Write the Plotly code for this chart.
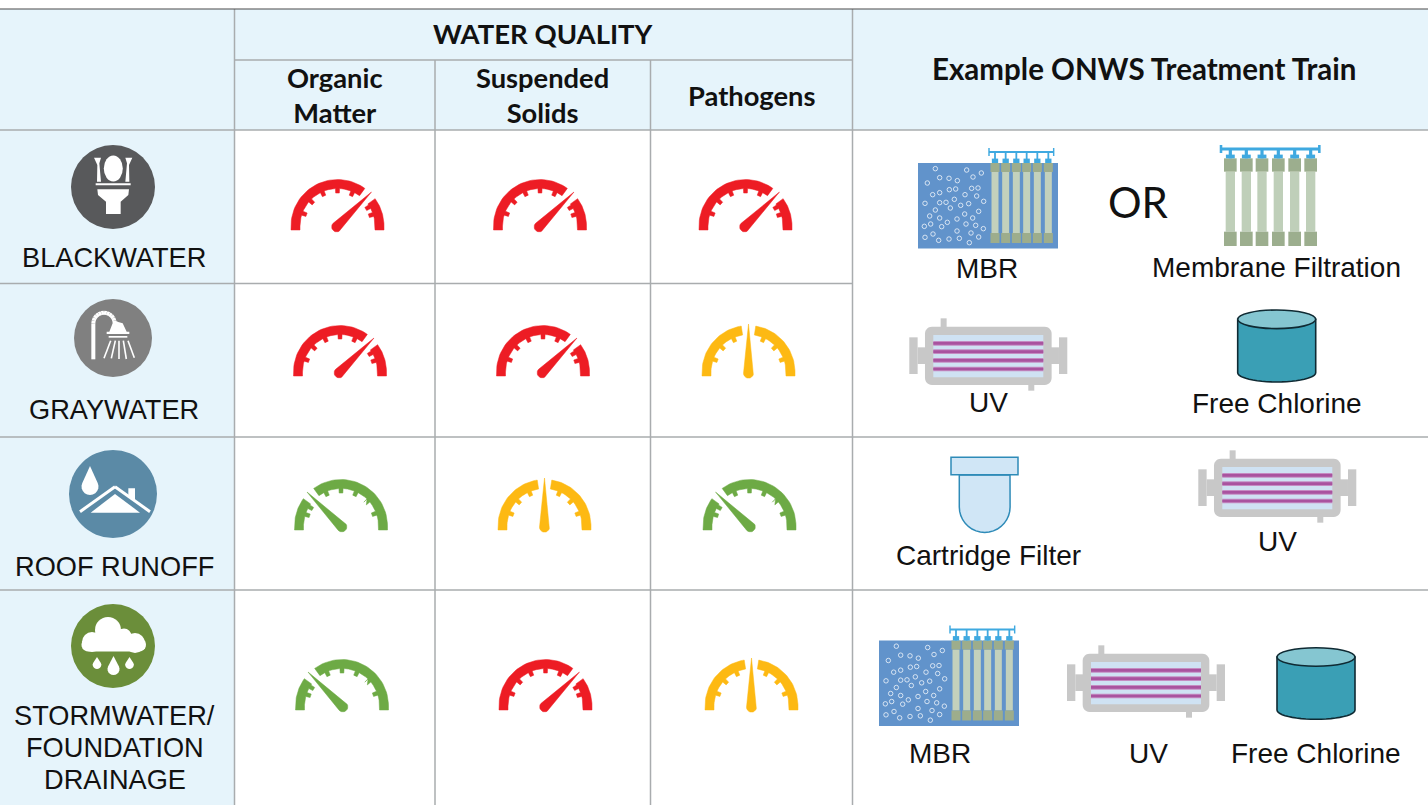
import math
import plotly.graph_objects as go

# ---- table content ----
SOURCES = ["BLACKWATER", "GRAYWATER", "ROOF RUNOFF", "STORMWATER/<br>FOUNDATION<br>DRAINAGE"]
PARAMETERS = ["Organic<br>Matter", "Suspended<br>Solids", "Pathogens"]
GROUP_TITLE = "WATER QUALITY"
TRAIN_TITLE = "Example ONWS Treatment Train"
ORGANIC = ["High", "High", "Low", "Low"]
SOLIDS = ["High", "High", "Medium", "High"]
PATHOGENS = ["High", "Medium", "Low", "Medium"]

# ---- layout / style ----
W, H = 1428, 805
TINT = "#E6F4FB"
GRID = "#A9ACAE"
DARK = "#4A4A4A"
INK = "#111111"
SANS = "Liberation Sans"
HEAD = "Lato"
LEVEL_STYLE = {"High": (45, "#ED1C24"), "Medium": (90, "#FDB913"), "Low": (135, "#6DAA45")}
GAUGE_X = [[337.5, 540, 745.5], [340, 543, 748.5], [341, 544.5, 749.5], [342, 545.5, 751.5]]
GAUGE_BASE = [230, 376, 530, 710]
TICK_ANGLES = {"High": [160, 137, 114, 90, 66, 31, 18],
               "Medium": [160, 137, 114, 66, 43, 20],
               "Low": [162, 149, 114, 90, 66, 43, 20]}

shapes, annotations = [], []


def Z(pts, ox, oy, k=1 / 3):
    return [(ox + x * k, oy + y * k) for x, y in pts]


def poly(pts, fill, line=None, lw=0):
    d = "M" + " L".join(f"{x:.2f},{y:.2f}" for x, y in pts) + " Z"
    shapes.append(dict(type="path", path=d, xref="x", yref="y", fillcolor=fill, layer="below",
                       line=dict(width=lw, color=line or fill)))


def rect(x0, y0, x1, y1, fill, line=None, lw=0):
    shapes.append(dict(type="rect", x0=x0, y0=y0, x1=x1, y1=y1, xref="x", yref="y", fillcolor=fill,
                       layer="below", line=dict(width=lw, color=line or fill)))


def round_rect(x0, y0, x1, y1, r, fill):
    pts = []
    for cx, cy, a0 in [(x1 - r, y0 + r, -90), (x1 - r, y1 - r, 0), (x0 + r, y1 - r, 90), (x0 + r, y0 + r, 180)]:
        for i in range(7):
            a = math.radians(a0 + i * 15)
            pts.append((cx + r * math.cos(a), cy + r * math.sin(a)))
    poly(pts, fill)


def circle(cx, cy, rx, fill, ry=None, line=None, lw=0):
    ry = ry or rx
    shapes.append(dict(type="circle", x0=cx - rx, x1=cx + rx, y0=cy - ry, y1=cy + ry, xref="x", yref="y",
                       fillcolor=fill, layer="below", line=dict(width=lw, color=line or fill)))


def seg(x0, y0, x1, y1, color, w):
    shapes.append(dict(type="line", x0=x0, y0=y0, x1=x1, y1=y1, xref="x", yref="y", layer="below",
                       line=dict(color=color, width=w)))


def text(x, y, s, size, family=SANS, color=INK):
    annotations.append(dict(x=x, y=y, text=s, showarrow=False, xanchor="center", yanchor="middle",
                            xref="x", yref="y", align="center",
                            font=dict(family=family, size=size, color=color)))


def drop(cx, top, bottom, r, fill):
    cy = bottom - r
    pts = [(cx, top)]
    for i in range(0, 13):
        a = math.radians(-25 + i * 230 / 12)
        pts.append((cx + r * math.cos(a), cy + r * math.sin(a)))
    poly(pts, fill)


# ---- gauges as data-driven traces ----
def gauge_xy(cx, base, level):
    ang, _ = LEVEL_STYLE[level]
    gap = 9
    R, r, tooth, half = 46.5, 37.5, 4.5, 3.2
    cy = base - 4
    xs, ys = [], []

    def pol(a, rad):
        return cx + rad * math.cos(math.radians(a)), cy - rad * math.sin(math.radians(a))

    for a0, a1 in [(180, ang + gap), (ang - gap, 0)]:
        outer = [pol(a0 + (a1 - a0) * i / 36, R) for i in range(37)]
        if a0 == 180:
            outer = [(cx - R, base)] + outer
        if a1 == 0:
            outer = outer + [(cx + R, base)]
        ticks = [t for t in TICK_ANGLES[level] if a1 + 4 < t < a0 - 4]
        steps = [a1 + (a0 - a1) * i / 30 for i in range(31)]
        marks = sorted([(a, 0) for a in steps if not any(abs(a - t) < half for t in ticks)] +
                       [(t - half, 1) for t in ticks] + [(t + half, 2) for t in ticks])
        inner = [(cx + r, base)] if a1 == 0 else []
        for a, kind in marks:
            if kind == 0:
                inner.append(pol(a, r))
            elif kind == 1:
                inner += [pol(a, r), pol(a, r - tooth)]
            else:
                inner += [pol(a, r - tooth), pol(a, r)]
        if a0 == 180:
            inner.append((cx - r, base))
        for p in outer + inner + [outer[0]]:
            xs.append(p[0])
            ys.append(p[1])
        xs.append(None)
        ys.append(None)
    # needle
    d = math.radians(ang)
    hx, hy = cx - 1.2 * math.cos(d), cy + 1.2 * math.sin(d)
    tip = (cx + 48 * math.cos(d), cy - 48 * math.sin(d))
    pts = [tip]
    for i in range(13):
        a = ang - 90 - i * 15
        pts.append((hx + 5 * math.cos(math.radians(a)), hy - 5 * math.sin(math.radians(a))))
    pts.append(tip)
    for p in pts:
        xs.append(p[0])
        ys.append(p[1])
    return xs, ys


fig = go.Figure()

# ---- table frame ----
rect(0, 9, W, 130, TINT)
rect(0, 130, 234, H, TINT)
for y0, x0, x1 in [(130, 0, W), (283.5, 0, 852), (437, 0, W), (590, 0, W), (60, 234, 852)]:
    seg(x0, y0, x1, y0, GRID, 1.5)
for x, y0, y1 in [(234.5, 9, H), (435, 60, H), (650.5, 60, H), (852.5, 9, H)]:
    seg(x, y0, x, y1, GRID, 1.5)
seg(0, 9, W, 9, DARK, 1.2)

# ---- headers ----
text(543, 33, f"<b>{GROUP_TITLE}</b>", 27.5, HEAD)
for x, y, p in zip([335, 542.5, 751.5], [94.5, 94.5, 95], PARAMETERS):
    text(x, y, f"<b>{p}</b>", 27.3, HEAD)
text(1143.5, 68, f"<b>{TRAIN_TITLE}</b>", 29.5, HEAD)

# ---- source labels ----
LABEL_X = [113.5, 114, 114, 114.5]
LABEL_Y = [257, 409, 566, 715]
for x, y, s in zip(LABEL_X, LABEL_Y, SOURCES):
    for i, part in enumerate(s.split("<br>")):
        text(x, y + i * 32, part, 27.2)

# ---- gauges ----
for row in range(len(SOURCES)):
    for col, series in enumerate([ORGANIC, SOLIDS, PATHOGENS]):
        level = series[row]
        xs, ys = gauge_xy(GAUGE_X[row][col], GAUGE_BASE[row], level)
        fig.add_trace(go.Scatter(x=xs, y=ys, mode="lines", fill="toself", fillcolor=LEVEL_STYLE[level][1],
                                 line=dict(width=0.5, color=LEVEL_STYLE[level][1]), hoverinfo="skip",
                                 showlegend=False))

# ---- source icons ----
# toilet
circle(113, 187, 42, "#58595B")
ox, oy = 0, 130
circle(113.3, 168.5, 9.5, "white", ry=13)
poly(Z([(282, 83), (303, 83), (298, 100), (303, 155), (291, 155), (292, 105)], ox, oy), "white")
poly(Z([(397, 83), (376, 83), (381, 100), (376, 155), (388, 155), (387, 105)], ox, oy), "white")
poly(Z([(287, 160), (392, 160), (392, 166), (287, 166)], ox, oy), "white")
poly(Z([(292, 178), (387, 178), (385, 195), (362, 215), (362, 252), (318, 252), (318, 215), (294, 195)], ox, oy), "white")

# shower
circle(113, 338, 39, "#808080")
ox, oy = 0, 290
pipe = [(280, 208), (280, 105)]
for i in range(13):
    a = math.radians(180 + i * 15)
    pipe.append((312 + 32 * math.cos(a), 100 + 32 * math.sin(a)))
pipe.append((352, 100))
pipe_px = Z(pipe, ox, oy)
for (a, b), (c, d) in zip(pipe_px[:-1], pipe_px[1:]):
    seg(a, b, c, d, "white", 4)
poly(Z([(352, 95), (368, 100), (380, 125), (388, 125), (388, 132), (320, 132), (320, 125), (328, 125), (338, 100)], ox, oy), "white")
poly(Z([(326, 138), (382, 138), (382, 143), (326, 143)], ox, oy), "white")
for (a, b), (c, d) in [((332, 152), (312, 205)), ((346, 152), (334, 205)), ((357, 152), (357, 207)),
                       ((370, 152), (379, 207)), ((384, 152), (403, 203))]:
    p = Z([(a, b), (c, d)], ox, oy)
    seg(p[0][0], p[0][1], p[1][0], p[1][1], "white", 1.6)

# roof
circle(113, 494, 44, "#5B8AA6")
drop(90, 466, 495, 8.5, "white")
ox, oy = 0, 290
p = Z([(240, 665), (345, 590), (450, 665)], ox, oy)
seg(p[0][0], p[0][1], p[1][0], p[1][1], "white", 3)
seg(p[1][0], p[1][1], p[2][0], p[2][1], "white", 3)
poly(Z([(272, 668), (345, 612), (420, 668)], ox, oy), "white")
poly(Z([(385, 595), (405, 595), (405, 635), (385, 620)], ox, oy), "white")

# cloud
circle(113, 646, 42, "#6B8E3A")
circle(108, 630, 13, "white")
circle(92, 642, 10, "white")
circle(124, 636, 7.5, "white")
circle(135, 643, 10, "white")
round_rect(81.5, 638, 146, 651.5, 6.7, "white")
drop(97, 657, 669, 4.3, "white")
drop(113.5, 656, 675, 6, "white")
drop(129.5, 657, 669, 4.3, "white")


# ---- treatment icons ----
def modules(centers, cap, body, y_caps, ox, oy, rail, rail_w, cap_col, body_col, blue="#3FA9E0"):
    top0, top1, bot0, bot1 = y_caps
    for c in centers:
        a = Z([(c - cap, top0), (c + cap, top1)], ox, oy)
        b = Z([(c - body, top1), (c + body, bot0)], ox, oy)
        e = Z([(c - cap, bot0), (c + cap, bot1)], ox, oy)
        rect(b[0][0], b[0][1], b[1][0], b[1][1], body_col)
        rect(a[0][0], a[0][1], a[1][0], a[1][1], cap_col)
        rect(e[0][0], e[0][1], e[1][0], e[1][1], cap_col)
        s = Z([(c, rail[2]), (c, top0)], ox, oy)
        seg(s[0][0], s[0][1], s[1][0], s[1][1], blue, rail_w)
        t = Z([(c - cap * 0.7, top0 - (top0 - rail[2]) * 0.4), (c + cap * 0.7, top0)], ox, oy)
        rect(t[0][0], t[0][1], t[1][0], t[1][1], blue)
    q = Z([(rail[0], rail[2]), (rail[1], rail[2])], ox, oy)
    seg(q[0][0], q[0][1], q[1][0], q[1][1], blue, rail_w)
    for xr in rail[:2]:
        u = Z([(xr, rail[2] - 12), (xr, rail[2] + 12)], ox, oy)
        seg(u[0][0], u[0][1], u[1][0], u[1][1], blue, rail_w * 0.8)


BUBBLES = [(107, 100), (201, 104), (245, 113), (220, 125), (120, 127), (148, 129), (173, 136), (83, 143), (216, 159),
           (235, 158), (149, 163), (168, 161), (120, 172), (99, 178), (196, 178), (231, 182), (164, 192), (76, 204),
           (120, 202), (139, 201), (183, 210), (207, 205), (252, 198), (152, 218), (107, 224), (237, 228), (195, 236),
           (90, 242), (120, 248), (172, 251), (219, 248), (143, 261), (74, 273), (93, 266), (126, 274), (199, 266),
           (228, 270), (251, 280), (172, 287), (214, 293), (100, 296), (76, 306), (117, 315), (148, 311), (179, 309),
           (237, 305), (209, 322)]


def mbr(x0, y0):
    ox, oy = x0 - 55 / 3, y0 - 83 / 3
    rect(x0, y0, x0 + 140, y0 + 85.5, "#6193CB")
    modules([286, 318, 350, 381, 413, 446], 13.5, 10.5, (83, 110, 293, 323), ox, oy, (268, 462, 50), 1.8,
            "#9DAD8C", "#C3D1BC")
    pts = Z(BUBBLES, ox, oy)
    fig.add_trace(go.Scatter(x=[p[0] for p in pts], y=[p[1] for p in pts], mode="markers", hoverinfo="skip",
                             showlegend=False,
                             marker=dict(symbol="circle-open", size=4.5, color="rgba(255,255,255,0.8)",
                                         line=dict(width=0.9, color="rgba(255,255,255,0.8)"))))


def uv(cx, cy):
    ox, oy = cx - 295 / 3, cy - 165 / 3
    gray = "#C8C8C8"

    def r(x0, y0, x1, y1, col):
        a = Z([(x0, y0), (x1, y1)], ox, oy)
        rect(a[0][0], a[0][1], a[1][0], a[1][1], col)

    r(58, 112, 83, 222, gray)
    r(83, 142, 110, 192, gray)
    r(507, 112, 532, 222, gray)
    r(480, 142, 507, 192, gray)
    r(152, 55, 170, 85, gray)
    r(415, 250, 433, 272, gray)
    a = Z([(105, 80), (485, 255)], ox, oy)
    round_rect(a[0][0], a[0][1], a[1][0], a[1][1], 7, gray)
    r(130, 105, 460, 232, "#CFE2F3")
    for y in [130, 155, 181, 207]:
        r(130, y - 7, 460, y + 7, "#C58CC2")
        r(130, y - 4, 460, y + 4, "#A9539F")


def tank(cx, top, bottom):
    rx, ry = 39, 9.3
    pts = []
    for i in range(25):
        a = math.radians(i * 7.5)
        pts.append((cx + rx * math.cos(a), bottom + ry * math.sin(a)))
    pts = [(cx + rx, top)] + pts + [(cx - rx, top)]
    poly(pts, "#3A9FB5", line="#0F2A33", lw=1.6)
    circle(cx, top, rx, "#85C6D1", ry=ry, line="#0F2A33", lw=1.6)


# row 1
mbr(918, 163)
modules([991, 1039, 1086, 1135, 1184, 1232], 19, 14, (70, 110, 290, 333), 900, 135, (963, 1258, 42), 3.2,
        "#9CAE8E", "#BFCFB9")
text(1138, 202, "OR", 42, HEAD)
text(987, 268.5, "MBR", 28)
text(1276.5, 267.5, "Membrane Filtration", 28)
# row 2
uv(988.3, 355)
tank(1276.7, 319.3, 372.7)
text(988, 402.5, "UV", 28)
text(1276.5, 403.5, "Free Chlorine", 28)
# row 3
body = [(959.3, 475)]
for i in range(19):
    a = math.radians(180 - i * 10)
    body.append((984.7 + 25.4 * math.cos(a), 507 + 25.4 * math.sin(a)))
body.append((1010, 475))
poly(body, "#D0E6F6", line="#2E8BB8", lw=1.5)
rect(951, 457.3, 1018, 474.7, "#D0E6F6", line="#2E8BB8", lw=1.5)
uv(1277.3, 487)
text(988, 555.5, "Cartridge Filter", 28)
text(1277, 541.5, "UV", 28)
# row 4
mbr(879, 640.5)
uv(1146, 682)
tank(1316, 657, 710)
text(940, 753.5, "MBR", 28)
text(1148, 753.5, "UV", 28)
text(1315.5, 753.5, "Free Chlorine", 28)

fig.update_layout(width=W, height=H, margin=dict(l=0, r=0, t=0, b=0), paper_bgcolor="white", plot_bgcolor="white",
                  showlegend=False, shapes=shapes, annotations=annotations,
                  xaxis=dict(range=[0, W], visible=False, fixedrange=True),
                  yaxis=dict(range=[H, 0], visible=False, fixedrange=True))
fig.write_html("out.html", config=dict(displayModeBar=False),
               post_script="document.body.style.margin='0';document.body.style.overflow='hidden';")
